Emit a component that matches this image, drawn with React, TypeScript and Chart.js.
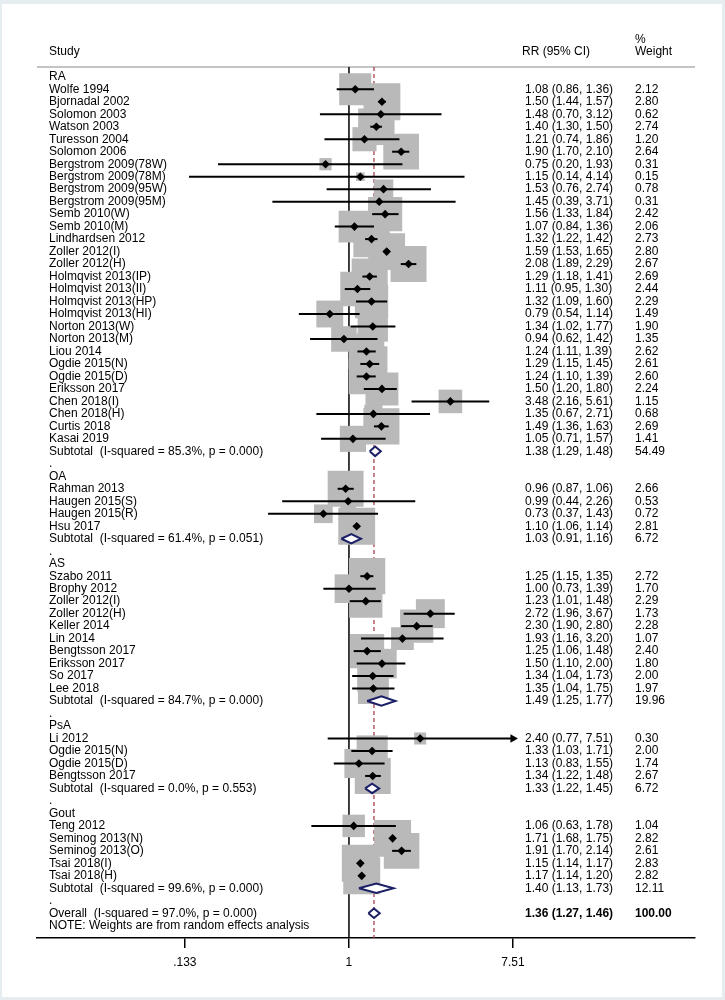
import React, { useEffect, useRef } from 'react';
import { Chart, registerables } from 'chart.js';

Chart.register(...registerables);

// ---------- data ----------
const groupNames = ['RA', 'OA', 'AS', 'PsA', 'Gout'];
const groupSizes = [29, 4, 10, 4, 5];

const studyLabels = [
  'Wolfe 1994', 'Bjornadal 2002', 'Solomon 2003', 'Watson 2003', 'Turesson 2004', 'Solomon 2006',
  'Bergstrom 2009(78W)', 'Bergstrom 2009(78M)', 'Bergstrom 2009(95W)', 'Bergstrom 2009(95M)',
  'Semb 2010(W)', 'Semb 2010(M)', 'Lindhardsen 2012', 'Zoller 2012(I)', 'Zoller 2012(H)',
  'Holmqvist 2013(IP)', 'Holmqvist 2013(II)', 'Holmqvist 2013(HP)', 'Holmqvist 2013(HI)',
  'Norton 2013(W)', 'Norton 2013(M)', 'Liou 2014', 'Ogdie 2015(N)', 'Ogdie 2015(D)',
  'Eriksson 2017', 'Chen 2018(I)', 'Chen 2018(H)', 'Curtis 2018', 'Kasai 2019',
  'Rahman 2013', 'Haugen 2015(S)', 'Haugen 2015(R)', 'Hsu 2017',
  'Szabo 2011', 'Brophy 2012', 'Zoller 2012(I)', 'Zoller 2012(H)', 'Keller 2014', 'Lin 2014',
  'Bengtsson 2017', 'Eriksson 2017', 'So 2017', 'Lee 2018',
  'Li 2012', 'Ogdie 2015(N)', 'Ogdie 2015(D)', 'Bengtsson 2017',
  'Teng 2012', 'Seminog 2013(N)', 'Seminog 2013(O)', 'Tsai 2018(I)', 'Tsai 2018(H)',
];

const studyRR = [
  1.08, 1.50, 1.48, 1.40, 1.21, 1.90, 0.75, 1.15, 1.53, 1.45, 1.56, 1.07, 1.32, 1.59, 2.08,
  1.29, 1.11, 1.32, 0.79, 1.34, 0.94, 1.24, 1.29, 1.24, 1.50, 3.48, 1.35, 1.49, 1.05,
  0.96, 0.99, 0.73, 1.10,
  1.25, 1.00, 1.23, 2.72, 2.30, 1.93, 1.25, 1.50, 1.34, 1.35,
  2.40, 1.33, 1.13, 1.34,
  1.06, 1.71, 1.91, 1.15, 1.17,
];

const studyLower = [
  0.86, 1.44, 0.70, 1.30, 0.74, 1.70, 0.20, 0.14, 0.76, 0.39, 1.33, 0.84, 1.22, 1.53, 1.89,
  1.18, 0.95, 1.09, 0.54, 1.02, 0.62, 1.11, 1.15, 1.10, 1.20, 2.16, 0.67, 1.36, 0.71,
  0.87, 0.44, 0.37, 1.06,
  1.15, 0.73, 1.01, 1.96, 1.90, 1.16, 1.06, 1.10, 1.04, 1.04,
  0.77, 1.03, 0.83, 1.22,
  0.63, 1.68, 1.70, 1.14, 1.14,
];

const studyUpper = [
  1.36, 1.57, 3.12, 1.50, 1.86, 2.10, 1.93, 4.14, 2.74, 3.71, 1.84, 1.36, 1.42, 1.65, 2.29,
  1.41, 1.30, 1.60, 1.14, 1.77, 1.42, 1.39, 1.45, 1.39, 1.80, 5.61, 2.71, 1.63, 1.57,
  1.06, 2.26, 1.43, 1.14,
  1.35, 1.39, 1.48, 3.67, 2.80, 3.20, 1.48, 2.00, 1.73, 1.75,
  7.51, 1.71, 1.55, 1.48,
  1.78, 1.75, 2.14, 1.17, 1.20,
];

const studyWeight = [
  2.12, 2.80, 0.62, 2.74, 1.20, 2.64, 0.31, 0.15, 0.78, 0.31, 2.42, 2.06, 2.73, 2.80, 2.67,
  2.69, 2.44, 2.29, 1.49, 1.90, 1.35, 2.62, 2.61, 2.60, 2.24, 1.15, 0.68, 2.69, 1.41,
  2.66, 0.53, 0.72, 2.81,
  2.72, 1.70, 2.29, 1.73, 2.28, 1.07, 2.40, 1.80, 2.00, 1.97,
  0.30, 2.00, 1.74, 2.67,
  1.04, 2.82, 2.61, 2.83, 2.82,
];

const subtotalLabels = [
  'Subtotal  (I-squared = 85.3%, p = 0.000)',
  'Subtotal  (I-squared = 61.4%, p = 0.051)',
  'Subtotal  (I-squared = 84.7%, p = 0.000)',
  'Subtotal  (I-squared = 0.0%, p = 0.553)',
  'Subtotal  (I-squared = 99.6%, p = 0.000)',
];
const subtotalRR = [1.38, 1.03, 1.49, 1.33, 1.40];
const subtotalLower = [1.29, 0.91, 1.25, 1.22, 1.13];
const subtotalUpper = [1.48, 1.16, 1.77, 1.45, 1.73];
const subtotalWeight = [54.49, 6.72, 19.96, 6.72, 12.11];

const overallLabel = 'Overall  (I-squared = 97.0%, p = 0.000)';
const overallRR = [1.36];
const overallLower = [1.27];
const overallUpper = [1.46];
const overallWeight = [100.0];
const noteText = 'NOTE: Weights are from random effects analysis';

const headerStudy = 'Study';
const headerRR = 'RR (95% CI)';
const headerWeight = ['%', 'Weight'];

const tickValues = [0.133, 1, 7.51];
const tickLabels = ['.133', '1', '7.51'];

// ---------- layout / style constants ----------
const X_MIN = 0.0216;
const X_MAX = 70.4;
const Y_MIN = -0.785;
const Y_MAX = 68.98;
const FONT = '"Liberation Sans", Arial, Helvetica, sans-serif';
const BOX_COLOR = '#b9b9b9';
const DIAMOND_COLOR = '#1b1f66';
const OVERALL_LINE_COLOR = '#a8424c';
const COL_STUDY = 49;
const COL_RR = 525;
const COL_WEIGHT = 635;

type Row = { label: string; kind: string; idx: number };

function buildRows(): Row[] {
  const rows: Row[] = [];
  let s = 0;
  groupNames.forEach((g, gi) => {
    rows.push({ label: g, kind: 'group', idx: gi });
    for (let k = 0; k < groupSizes[gi]; k++, s++) {
      rows.push({ label: studyLabels[s], kind: 'study', idx: s });
    }
    rows.push({ label: subtotalLabels[gi], kind: 'subtotal', idx: gi });
    rows.push({ label: '.', kind: 'blank', idx: -1 });
  });
  rows.push({ label: overallLabel, kind: 'overall', idx: 0 });
  rows.push({ label: noteText, kind: 'note', idx: -1 });
  return rows;
}

const fmtCI = (e: number, l: number, u: number) =>
  `${e.toFixed(2)} (${l.toFixed(2)}, ${u.toFixed(2)})`;

export default function App() {
  const canvasRef = useRef<HTMLCanvasElement | null>(null);

  useEffect(() => {
    const canvas = canvasRef.current;
    if (!canvas) return;
    const rows = buildRows();
    const datasets: any[] = [];

    // null line at RR = 1
    datasets.push({
      type: 'line',
      data: [{ x: 1, y: Y_MIN }, { x: 1, y: Y_MAX }],
      borderColor: '#000',
      borderWidth: 1.5,
      pointRadius: 0,
      order: 100,
    });
    // overall estimate dashed line
    datasets.push({
      type: 'line',
      data: [{ x: overallRR[0], y: Y_MIN }, { x: overallRR[0], y: Y_MAX }],
      borderColor: OVERALL_LINE_COLOR,
      borderWidth: 1.3,
      borderDash: [4, 3],
      pointRadius: 0,
      order: 99,
    });

    const studyRows: number[] = [];
    rows.forEach((r, i) => {
      if (r.kind === 'study') studyRows[r.idx] = i;
    });

    // weight boxes
    datasets.push({
      type: 'scatter',
      data: studyRR.map((v, s) => ({ x: v, y: studyRows[s] })),
      pointStyle: 'rect',
      pointRadius: studyWeight.map((w) => (22 * Math.sqrt(w)) / Math.SQRT2),
      pointBackgroundColor: BOX_COLOR,
      pointBorderWidth: 0,
      order: 50,
    });

    // confidence interval lines
    const clipHi = tickValues[tickValues.length - 1];
    const clipLo = tickValues[0];
    studyRR.forEach((_, s) => {
      const arrowHi = studyUpper[s] >= clipHi;
      datasets.push({
        type: 'line',
        data: [
          { x: Math.max(studyLower[s], clipLo), y: studyRows[s] },
          { x: Math.min(studyUpper[s], clipHi), y: studyRows[s] },
        ],
        borderColor: '#000',
        borderWidth: 2,
        pointRadius: [0, arrowHi ? 5 : 0],
        pointStyle: 'triangle',
        pointRotation: 90,
        pointBackgroundColor: '#000',
        pointBorderWidth: 0,
        order: 40,
      });
    });

    // point estimates
    datasets.push({
      type: 'scatter',
      data: studyRR.map((v, s) => ({ x: v, y: studyRows[s] })),
      pointStyle: 'rectRot',
      pointRadius: 4.3,
      pointBackgroundColor: '#000',
      pointBorderWidth: 0,
      order: 30,
    });

    // pooled diamonds
    const diamond = (e: number, l: number, u: number, r: number) => {
      const h = 0.38;
      datasets.push({
        type: 'line',
        data: [
          { x: l, y: r },
          { x: e, y: r - h },
          { x: u, y: r },
          { x: e, y: r + h },
          { x: l, y: r },
        ],
        borderColor: DIAMOND_COLOR,
        borderWidth: 2,
        backgroundColor: '#ffffff',
        fill: 'shape',
        pointRadius: 0,
        tension: 0,
        order: 20,
      });
    };
    rows.forEach((r, i) => {
      if (r.kind === 'subtotal') {
        diamond(subtotalRR[r.idx], subtotalLower[r.idx], subtotalUpper[r.idx], i);
      } else if (r.kind === 'overall') {
        diamond(overallRR[0], overallLower[0], overallUpper[0], i);
      }
    });

    const framePlugin = {
      id: 'frame',
      beforeDraw(chart: any) {
        const { ctx, width, height } = chart;
        ctx.save();
        ctx.fillStyle = '#e6edf0';
        ctx.fillRect(0, 0, width, height);
        ctx.fillStyle = '#ffffff';
        ctx.fillRect(2, 4, width - 5, height - 7);
        ctx.restore();
      },
      beforeDatasetsDraw(chart: any) {
        const { ctx, chartArea } = chart;
        ctx.save();
        ctx.strokeStyle = '#c4c4c4';
        ctx.lineWidth = 2;
        ctx.beginPath();
        ctx.moveTo(chartArea.left, chartArea.top);
        ctx.lineTo(chartArea.right, chartArea.top);
        ctx.stroke();
        ctx.restore();
      },
    };

    const textPlugin = {
      id: 'forestText',
      afterDraw(chart: any) {
        const { ctx, chartArea, scales } = chart;
        const ys = scales.y;
        const font = (b: boolean) => `${b ? 'bold ' : ''}12px ${FONT}`;
        ctx.save();
        ctx.fillStyle = '#000';
        ctx.textAlign = 'left';
        ctx.textBaseline = 'middle';
        ctx.font = font(false);
        ctx.fillText(headerStudy, COL_STUDY, chartArea.top - 15);
        ctx.fillText(headerRR, COL_RR - 3, chartArea.top - 15);
        ctx.fillText(headerWeight[0], COL_WEIGHT, chartArea.top - 27);
        ctx.fillText(headerWeight[1], COL_WEIGHT, chartArea.top - 15);
        rows.forEach((r, i) => {
          const py = ys.getPixelForValue(i);
          ctx.font = font(false);
          ctx.fillText(r.label, COL_STUDY, py);
          let ci = '';
          let w = '';
          if (r.kind === 'study') {
            ci = fmtCI(studyRR[r.idx], studyLower[r.idx], studyUpper[r.idx]);
            w = studyWeight[r.idx].toFixed(2);
          } else if (r.kind === 'subtotal') {
            ci = fmtCI(subtotalRR[r.idx], subtotalLower[r.idx], subtotalUpper[r.idx]);
            w = subtotalWeight[r.idx].toFixed(2);
          } else if (r.kind === 'overall') {
            ci = fmtCI(overallRR[0], overallLower[0], overallUpper[0]);
            w = overallWeight[0].toFixed(2);
            ctx.font = font(true);
          }
          if (ci) {
            ctx.fillText(ci, COL_RR, py);
            ctx.fillText(w, COL_WEIGHT, py);
          }
        });
        ctx.restore();
      },
    };

    const chart = new Chart(canvas, {
      type: 'scatter',
      data: { datasets },
      options: {
        animation: false,
        responsive: false,
        events: [],
        layout: { padding: { left: 37, right: 30, top: 67, bottom: 0 } },
        plugins: { legend: { display: false }, tooltip: { enabled: false } },
        scales: {
          x: {
            type: 'logarithmic',
            min: X_MIN,
            max: X_MAX,
            position: 'bottom',
            border: { display: true, color: '#000', width: 1.5 },
            grid: {
              display: true,
              drawOnChartArea: false,
              drawTicks: true,
              tickLength: 10,
              color: '#000',
              lineWidth: 1.5,
            },
            ticks: {
              autoSkip: false,
              maxRotation: 0,
              padding: 7,
              color: '#000',
              font: { family: FONT, size: 12 },
              callback: (_v: any, i: number) => tickLabels[i],
            },
            afterBuildTicks: (axis: any) => {
              axis.ticks = tickValues.map((v) => ({ value: v }));
            },
            afterFit: (axis: any) => {
              axis.height = 62;
            },
          },
          y: {
            type: 'linear',
            display: false,
            reverse: true,
            min: Y_MIN,
            max: Y_MAX,
          },
        },
      } as any,
      plugins: [framePlugin, textPlugin],
    });
    return () => chart.destroy();
  }, []);

  return (
    <div style={{ position: 'absolute', left: 0, top: 0, width: 725, height: 1000 }}>
      <canvas ref={canvasRef} width={725} height={1000} style={{ display: 'block', width: 725, height: 1000 }} />
    </div>
  );
}
